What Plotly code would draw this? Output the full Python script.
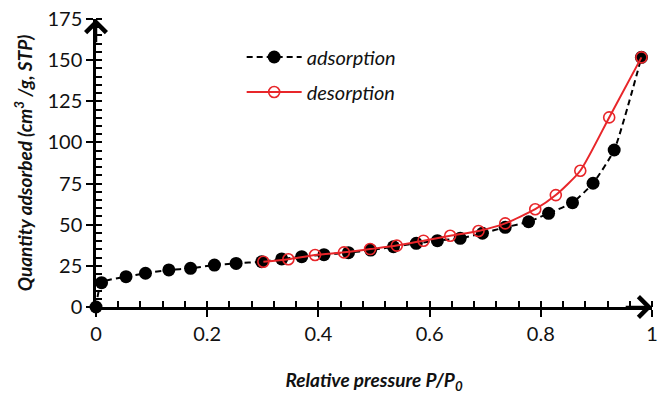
import plotly.graph_objects as go

ads_x = [0.0, 0.010, 0.054, 0.089, 0.131, 0.170, 0.213, 0.252, 0.298, 0.334, 0.370, 0.410,
         0.454, 0.494, 0.535, 0.576, 0.614, 0.655, 0.695, 0.736, 0.778, 0.814, 0.857, 0.894, 0.932, 0.981]
ads_y = [0.0, 14.8, 18.4, 20.5, 22.5, 23.5, 25.5, 26.5, 27.5, 29.2, 30.6, 31.8,
         33.0, 34.6, 36.6, 38.7, 40.3, 41.7, 44.8, 48.4, 51.8, 56.9, 63.4, 75.2, 95.4, 151.7]

des_x = [0.301, 0.346, 0.394, 0.446, 0.493, 0.541, 0.589, 0.637, 0.688, 0.736, 0.790, 0.827, 0.871, 0.923, 0.981]
des_y = [27.5, 29.0, 31.6, 33.2, 35.2, 37.3, 40.3, 43.3, 46.2, 50.8, 59.4, 68.0, 82.8, 115.2, 151.7]

x_ticks = [0, 0.2, 0.4, 0.6, 0.8, 1]
x_tick_labels = ["0", "0.2", "0.4", "0.6", "0.8", "1"]
y_ticks = [0, 25, 50, 75, 100, 125, 150, 175]

FONT = "Lato, 'Open Sans', sans-serif"
TXT = "#111"

fig = go.Figure()
fig.add_trace(go.Scatter(
    x=ads_x, y=ads_y, mode="lines+markers", name="adsorption",
    line=dict(color="black", width=2, dash="6px,4px", shape="spline", smoothing=0.5),
    marker=dict(symbol="circle", size=13, color="black"),
    cliponaxis=False, legend="legend", showlegend=True,
))
fig.add_trace(go.Scatter(
    x=des_x, y=des_y, mode="lines+markers", name="desorption",
    line=dict(color="#e8262a", width=2, shape="spline", smoothing=0.6),
    marker=dict(symbol="circle-open", size=11, color="#e8262a", line=dict(width=1.6)),
    cliponaxis=False, legend="legend2", showlegend=True,
))

legend_common = dict(font=dict(family=FONT, size=20, color=TXT, style="italic"),
                     bgcolor="rgba(0,0,0,0)", xanchor="left", yanchor="middle",
                     itemwidth=55, visible=True)

fig.update_layout(
    width=665, height=394,
    margin=dict(l=96, r=13, t=19, b=87, autoexpand=False),
    paper_bgcolor="white", plot_bgcolor="white",
    showlegend=True,
    font=dict(family=FONT, size=19, color=TXT),
    legend=dict(x=0.262, y=(307 - 57) / 288, **legend_common),
    legend2=dict(x=0.262, y=(307 - 92) / 288, **legend_common),
    xaxis=dict(
        range=[0, 1], tickvals=x_ticks, ticktext=x_tick_labels, automargin=False,
        showline=True, linecolor="black", linewidth=2.5,
        ticks="outside", ticklen=7, tickwidth=2, tickcolor="black",
        minor=dict(dtick=0.04, ticks="inside", ticklen=6, tickwidth=1.5, tickcolor="black", showgrid=False),
        showgrid=False, zeroline=False,
        tickfont=dict(size=20, family=FONT, color=TXT),
        title=dict(text="Relative pressure P/P<sub>0</sub>", standoff=32,
                   font=dict(size=19, family=FONT, weight="bold", style="italic", color=TXT)),
    ),
    yaxis=dict(
        range=[0, 175], tickvals=y_ticks, automargin=False,
        showline=True, linecolor="black", linewidth=2.5,
        ticks="outside", ticklen=7, tickwidth=2, tickcolor="black",
        minor=dict(dtick=5, ticks="inside", ticklen=6, tickwidth=1.5, tickcolor="black", showgrid=False),
        showgrid=False, zeroline=False,
        tickfont=dict(size=20, family=FONT, color=TXT),
        title=dict(text="Quantity adsorbed (cm<sup>3</sup> /g, STP)", standoff=10,
                   font=dict(size=19, family=FONT, weight="bold", style="italic", color=TXT)),
    ),
)

# axis arrowheads
fig.add_annotation(x=0, y=175, ax=0, ay=160, xref="x", yref="y", axref="x", ayref="y",
                   showarrow=True, arrowhead=4, arrowsize=1.6, arrowwidth=2.5, arrowcolor="black", text="")
fig.add_annotation(x=1, y=0, ax=0.95, ay=0, xref="x", yref="y", axref="x", ayref="y",
                   showarrow=True, arrowhead=4, arrowsize=1.6, arrowwidth=2.5, arrowcolor="black", text="")

fig.write_html("out.html")
